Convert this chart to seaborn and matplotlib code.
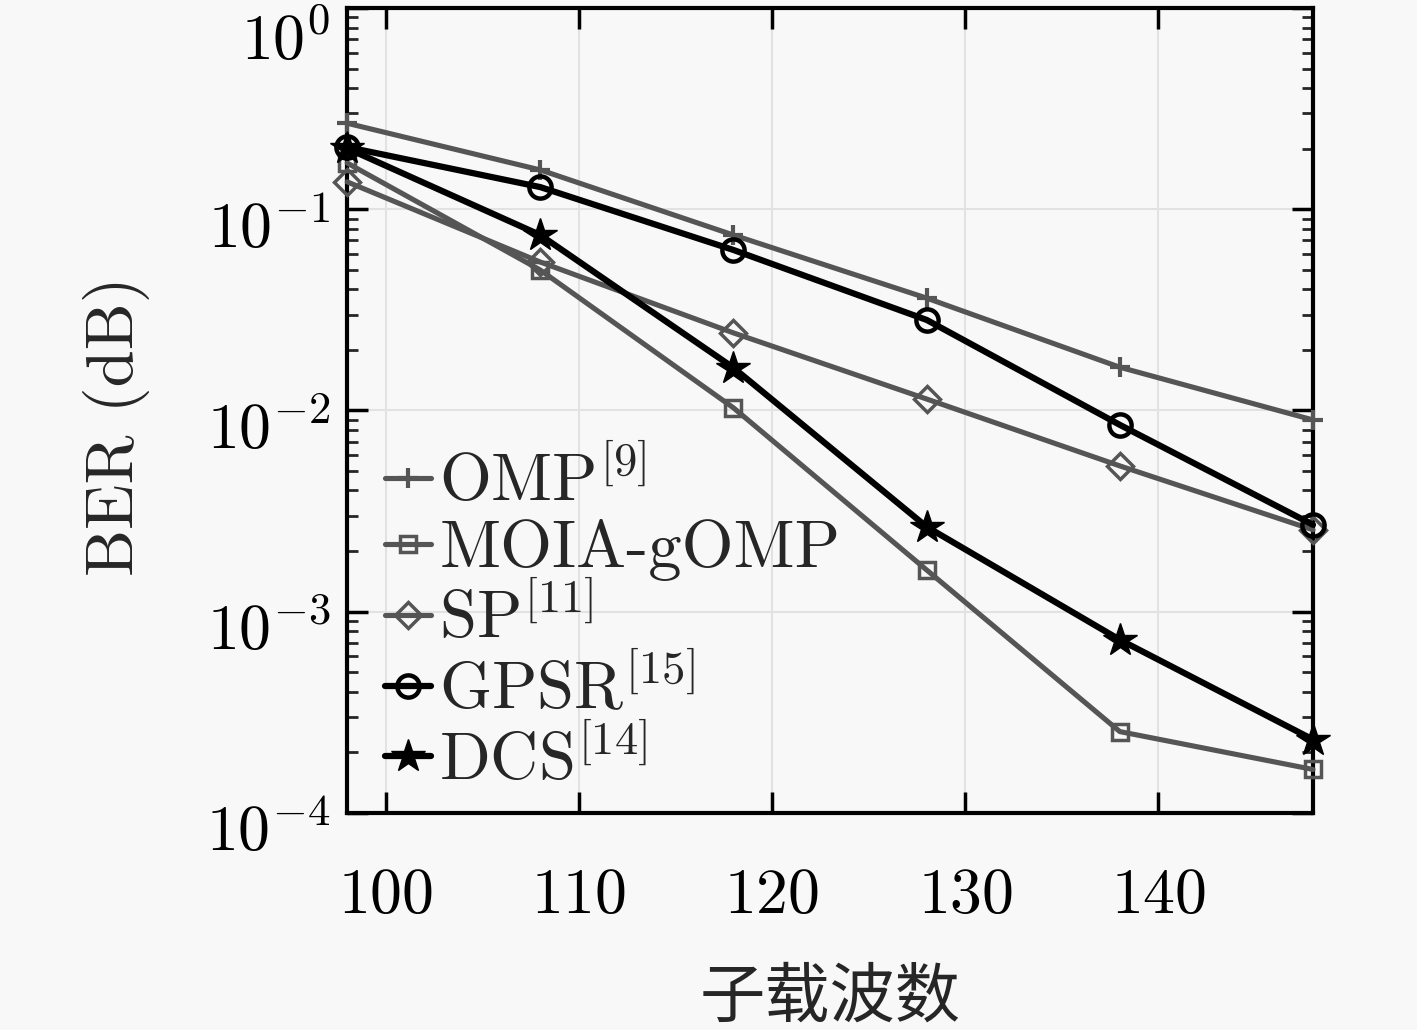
import numpy as np
import pandas as pd
import matplotlib
matplotlib.use("Agg")
import matplotlib.pyplot as plt
import matplotlib.transforms as mtransforms
import seaborn as sns
from matplotlib.ticker import LogLocator, NullFormatter, FixedLocator

subcarriers = [98, 108, 118, 128, 138, 148]
omp = [0.268, 0.157, 0.0745, 0.0362, 0.0164, 0.00897]
moia_gomp = [0.170, 0.0499, 0.0103, 0.00161, 0.000253, 0.000164]
sp = [0.137, 0.0547, 0.0243, 0.0114, 0.0053, 0.00255]
gpsr = [0.204, 0.129, 0.0628, 0.0282, 0.00848, 0.0027]
dcs = [0.201, 0.0745, 0.0163, 0.00264, 0.000724, 0.000231]

labels = ["OMP$^{[9]}$", "MOIA-gOMP", "SP$^{[11]}$", "GPSR$^{[15]}$", "DCS$^{[14]}$"]
x_ticks = [100, 110, 120, 130, 140]

sns.set_theme(style="ticks")
plt.rcParams['font.family'] = ['cmr10', 'Noto Sans CJK SC', 'DejaVu Sans']
plt.rcParams['mathtext.fontset'] = 'cm'
plt.rcParams['axes.formatter.use_mathtext'] = True
plt.rcParams['axes.unicode_minus'] = True

bg = '#f8f8f8'
fig = plt.figure(figsize=(14.17, 10.30), dpi=100, facecolor=bg)
ax = fig.add_axes([0.245, 0.211, 0.6816, 0.781])
ax.set_facecolor(bg)

gray = '#555555'
styles = [
    dict(color=gray, marker='+', ms=15, mew=3, lw=3.7, mfc='none'),
    dict(color=gray, marker='s', ms=11, mew=2.5, lw=3.7, mfc='none'),
    dict(color=gray, marker='D', ms=13, mew=2.5, lw=3.7, mfc='none'),
    dict(color='black', marker='o', ms=16, mew=3.2, lw=4.5, mfc='none'),
    dict(color='black', marker='*', ms=25, mew=1, lw=4.5, mfc='black'),
]
series = [omp, moia_gomp, sp, gpsr, dcs]
for vals, lab, st in zip(series, labels, styles):
    df = pd.DataFrame({"x": subcarriers, "y": vals})
    sns.lineplot(data=df, x="x", y="y", ax=ax, label=lab,
                 color=st['color'], marker=st['marker'], markersize=st['ms'],
                 markeredgewidth=st['mew'], linewidth=st['lw'],
                 markerfacecolor=st['mfc'], markeredgecolor=st['color'],
                 clip_on=False, zorder=3)

ax.set_yscale('log')
ax.set_ylim(1e-4, 1e0)
ax.set_xlim(98, 148)
ax.xaxis.set_major_locator(FixedLocator(x_ticks))
ax.yaxis.set_major_locator(LogLocator(base=10, numticks=10))
ax.yaxis.set_minor_locator(LogLocator(base=10, subs=np.arange(2, 10), numticks=20))
ax.yaxis.set_minor_formatter(NullFormatter())

ax.grid(True, which='major', color='#e2e2e2', lw=1.5)
ax.set_axisbelow(True)

for sp_ in ax.spines.values():
    sp_.set_linewidth(3)
    sp_.set_color('black')

ax.tick_params(axis='both', which='major', direction='in', length=15, width=2.5,
               top=True, right=True, labelsize=46, pad=12, colors='black')
ax.tick_params(axis='both', which='minor', direction='in', length=8, width=2,
               top=True, right=True)
ax.tick_params(axis='x', which='major', pad=40)

ax.set_xlabel("子载波数", fontsize=47, family=['Noto Sans CJK SC'])
ax.set_ylabel("BER (dB)", fontsize=48)
ax.xaxis.set_label_coords(0.5, -0.19)
ax.yaxis.set_label_coords(-0.204, 0.48)

fig.canvas.draw()
for lab in ax.get_yticklabels():
    txt = lab.get_text()
    dy = 28 if '{0}' in txt else 15
    lab.set_transform(lab.get_transform() +
                      mtransforms.ScaledTranslation(0, -dy / 100, fig.dpi_scale_trans))

leg = ax.legend(loc='lower left', bbox_to_anchor=(0.039, 0.025), frameon=False,
                fontsize=48, handlelength=0.7, handletextpad=0.12,
                labelspacing=0.07, borderaxespad=0.0, borderpad=0.0)

fig.savefig("out.png", dpi=100, facecolor=bg)
